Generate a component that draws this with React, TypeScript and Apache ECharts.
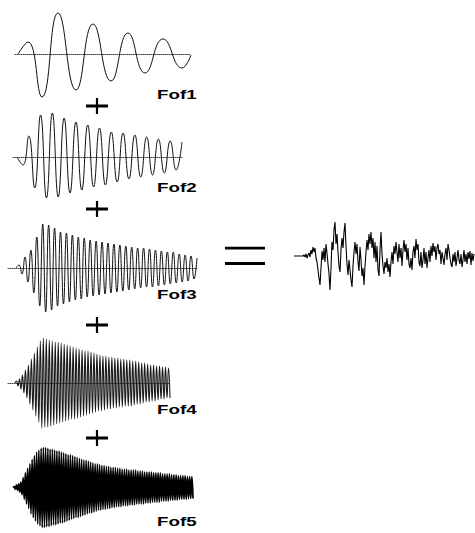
import { useEffect, useRef } from "react";
import * as echarts from "echarts";

// Fof1: slow formant wave, extrema read as (time, amplitude)
const fof1Time = [0, 10, 24, 40, 58, 75, 93, 110, 127, 145, 164, 173];
const fof1 = [0, 12, -43, 41, -36, 30, -27, 21, -19, 15, -14, -1];

// Fof2..Fof5: successive extrema (equal spacing in time)
const fof2 = [0, -8, 21, -31, 42, -41, 44, -40, 39, -36, 35, -33, 32, -30, 29, -28, 25, -25, 24, -22, 22, -20, 20, -18, 18, -16, 16, -13, 15];

const fof3 = [
  0, 3, -6, 11, -14, 18, -25, 31, -38, 44,
  -44, 43, -42, 40, -38, 36, -36, 35, -34, 33,
  -32, 31, -31, 30, -29, 28, -28, 27, -27, 26,
  -26, 25, -25, 24, -24, 23, -23, 22, -22, 21,
  -21, 20, -20, 20, -19, 19, -19, 18, -18, 17,
  -17, 16, -16, 16, -15, 14, -14, 13, -13, 12,
  -11, 10,
];

const fof4 = [
  0, 2, -3, 4, -6, 8, -10, 13, -15, 18,
  -21, 24, -27, 30, -33, 36, -39, 42, -45, 45,
  -44, 44, -44, 43, -43, 42, -42, 41, -41, 41,
  -40, 40, -39, 39, -38, 38, -37, 37, -36, 36,
  -36, 35, -35, 34, -34, 33, -33, 32, -32, 32,
  -31, 31, -30, 30, -29, 29, -28, 28, -28, 27,
  -27, 27, -26, 26, -26, 26, -25, 25, -25, 25,
  -24, 24, -24, 24, -23, 23, -23, 23, -23, 22,
  -22, 22, -21, 21, -21, 20, -20, 20, -19, 19,
  -19, 18, -18, 18, -18, 17, -17, 17, -16, 16,
  -16, 16, -15, 15, -15,
];

const fof5 = [
  0, 1, -2, 3, -3, 4, -5, 6, -8, 11,
  -13, 16, -18, 21, -23, 26, -29, 31, -33, 35,
  -37, 39, -40, 41, -42, 43, -44, 44, -44, 44,
  -43, 43, -43, 42, -42, 42, -41, 41, -41, 40,
  -40, 40, -39, 39, -39, 38, -38, 37, -37, 36,
  -36, 36, -35, 35, -34, 34, -33, 33, -33, 32,
  -32, 31, -31, 30, -30, 30, -29, 29, -28, 28,
  -28, 27, -27, 26, -26, 26, -25, 25, -25, 24,
  -24, 24, -24, 23, -23, 23, -23, 22, -22, 22,
  -22, 22, -21, 21, -21, 21, -21, 20, -20, 20,
  -20, 20, -20, 19, -19, 19, -19, 19, -19, 19,
  -18, 18, -18, 18, -18, 18, -18, 17, -17, 17,
  -17, 17, -17, 17, -16, 16, -16, 16, -16, 16,
  -16, 16, -15, 15, -15, 15, -15, 15, -15, 15,
  -14, 14, -14, 14, -14, 14, -14, 13, -13, 13,
  -13, 13, -13, 13, -13, 12, -12, 12, -12, 12,
  -12,
];

// Resulting sum signal, sampled at equal steps
const sum = [
  0, 0, 0, 0, 0, 0, 0, 0, 0, 0,
  1, -1, 2, -2, 1, 3, -1, 6, 2, 9,
  4, 8, -2, -6, -14, -22, -29, -12, 5, -4,
  8, -6, 12, 3, -8, -18, -34, -12, 14, 6,
  26, 34, 12, 22, 4, -10, -16, 6, 18, 8,
  24, 33, 10, -8, -19, -4, -14, -24, -31, -10,
  4, 14, 2, 12, -6, -15, 9, -4, -20, -12,
  -29, -10, 4, 16, 6, 22, 12, 24, 8, 18,
  -2, 14, -6, 10, -14, -20, 6, 24, 2, -10,
  -18, -6, -12, -2, -16, -8, -21, -6, 4, -8,
  10, 2, 14, 4, -6, 12, -2, 8, -10, 6,
  16, 4, 12, -4, 8, -8, -12, -2, -14, 4,
  10, -2, 17, 6, 12, -6, -10, 4, -12, -4,
  8, -8, 4, -12, -2, 6, -6, 10, 0, 13,
  4, 10, -4, 8, 12, 2, 6, -8, 4, -2,
  -9, 2, 8, -4, 12, 6, -2, -8, -11, 2,
  -6, 4, -10, -2, 6, -4, -8, 2, -11, -4,
  6, -6, 2, -8, 4, -3, 5, -9, 3, -5,
  2,
];

const labels = ["Fof1", "Fof2", "Fof3", "Fof4", "Fof5"];

type Panel = {
  data: number[][];
  baseline: number; // px
  axisLeft: number;
  axisRight: number;
  dataLeft: number;
  dataRight: number;
  dotted: boolean;
  smooth: number | boolean;
  width: number;
  color: string;
};

const indexed = (vals: number[]) => vals.map((v, i) => [i, v]);

const panels: Panel[] = [
  { data: fof1.map((v, i) => [fof1Time[i], v]), baseline: 54, axisLeft: 15, axisRight: 191, dataLeft: 18, dataRight: 191, dotted: true, smooth: 0.5, width: 1, color: "#111" },
  { data: indexed(fof2), baseline: 157, axisLeft: 13, axisRight: 182, dataLeft: 17, dataRight: 182, dotted: true, smooth: 0.5, width: 1, color: "#111" },
  { data: indexed(fof3), baseline: 268, axisLeft: 8, axisRight: 197, dataLeft: 16, dataRight: 197, dotted: true, smooth: 0.5, width: 1, color: "#111" },
  { data: indexed(fof4), baseline: 383, axisLeft: 8, axisRight: 170, dataLeft: 15, dataRight: 170, dotted: true, smooth: 0.5, width: 1.1, color: "#1a1a1a" },
  { data: indexed(fof5), baseline: 492, axisLeft: 13, axisRight: 193, dataLeft: 13, dataRight: 193, dotted: false, smooth: 0.5, width: 1.7, color: "#000" },
  { data: indexed(sum), baseline: 256, axisLeft: 294, axisRight: 475, dataLeft: 294, dataRight: 474, dotted: false, smooth: false, width: 1.1, color: "#000" },
];

const labelY = [95, 188, 295, 410, 522];
const plusY = [106, 209, 325, 438];

function buildOption() {
  const grid: any[] = [];
  const xAxis: any[] = [];
  const yAxis: any[] = [];
  const series: any[] = [];
  panels.forEach((p, i) => {
    const t0 = p.data[0][0];
    const t1 = p.data[p.data.length - 1][0];
    const s = (t1 - t0) / (p.dataRight - p.dataLeft);
    grid.push({ left: p.axisLeft, top: p.baseline - 50, width: p.axisRight - p.axisLeft, height: 100 });
    xAxis.push({
      type: "value",
      gridIndex: i,
      min: t0 - (p.dataLeft - p.axisLeft) * s,
      max: t1 + (p.axisRight - p.dataRight) * s,
      axisLine: { show: p.dotted, onZero: true, lineStyle: { color: "#444", width: 1, type: [1, 1] } },
      axisTick: { show: false },
      axisLabel: { show: false },
      splitLine: { show: false },
    });
    yAxis.push({
      type: "value",
      gridIndex: i,
      min: -50,
      max: 50,
      axisLine: { show: false },
      axisTick: { show: false },
      axisLabel: { show: false },
      splitLine: { show: false },
    });
    series.push({
      type: "line",
      xAxisIndex: i,
      yAxisIndex: i,
      data: p.data,
      symbol: "none",
      smooth: p.smooth,
      silent: true,
      lineStyle: { color: p.color, width: p.width },
    });
  });

  const graphic: any[] = [];
  labels.forEach((t, i) => {
    graphic.push({
      type: "text",
      x: 157,
      y: labelY[i],
      scaleX: 1.5,
      style: {
        text: t,
        font: 'bold 12.5px "Liberation Sans", Arial, sans-serif',
        fill: "#000",
        align: "left",
        verticalAlign: "middle",
      },
    });
  });
  plusY.forEach((cy) => {
    graphic.push({ type: "line", shape: { x1: 86, y1: cy, x2: 108, y2: cy }, style: { stroke: "#000", lineWidth: 3 } });
    graphic.push({ type: "line", shape: { x1: 97, y1: cy - 8, x2: 97, y2: cy + 8 }, style: { stroke: "#000", lineWidth: 2.2 } });
  });
  graphic.push({ type: "rect", shape: { x: 225, y: 246.7, width: 40, height: 2.8 }, style: { fill: "#000" } });
  graphic.push({ type: "rect", shape: { x: 225, y: 262, width: 40, height: 3 }, style: { fill: "#000" } });

  return {
    animation: false,
    backgroundColor: "#fff",
    grid,
    xAxis,
    yAxis,
    series,
    graphic,
  };
}

export default function App() {
  const ref = useRef<HTMLDivElement>(null);
  useEffect(() => {
    if (!ref.current) return;
    const chart = echarts.init(ref.current, null, { renderer: "svg" });
    chart.setOption(buildOption() as any);
    return () => chart.dispose();
  }, []);
  return (
    <div
      ref={ref}
      style={{ position: "absolute", left: 0, top: 0, width: 475, height: 533 }}
    />
  );
}
